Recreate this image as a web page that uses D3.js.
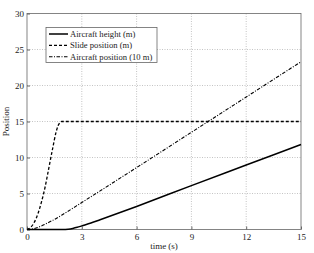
<!DOCTYPE html>
<html>
<head>
<meta charset="utf-8">
<script src="https://cdn.jsdelivr.net/npm/d3@7"></script>
<style>
  body { margin: 0; background: #fff; }
  text { font-family: "Liberation Serif", "DejaVu Serif", serif; fill: #222; }
</style>
</head>
<body>
<svg id="chart" width="314" height="253"></svg>
<script>
// Series data
const heightT = [0, 2, 2.25, 2.5, 2.75, 3, 3.5, 4, 6, 9, 12, 15];
const heightV = [0, 0, 0.05, 0.15, 0.3, 0.5, 0.9, 1.35, 3.2, 6.1, 8.95, 11.8];

const slideT = [0, 0.2, 0.4, 0.6, 0.8, 1.0, 1.2, 1.4, 1.6, 1.7, 1.8, 1.9, 2.0, 15];
const slideV = [0, 0.3, 1.0, 2.2, 3.9, 6.0, 8.6, 11.2, 13.6, 14.4, 14.85, 15, 15, 15];

const planeT = [0, 0.25, 0.5, 0.75, 1, 1.5, 2, 3, 6, 9, 12, 15];
const planeV = [0, 0.05, 0.2, 0.45, 0.75, 1.4, 2.15, 3.75, 8.6, 13.5, 18.4, 23.3];

const xTicks = [0, 3, 6, 9, 12, 15];
const yTicks = [0, 5, 10, 15, 20, 25, 30];

const series = [
  { name: 'Aircraft height (m)', t: heightT, v: heightV, dash: null, width: 1.5 },
  { name: 'Slide position (m)', t: slideT, v: slideV, dash: '3,2', width: 1.3 },
  { name: 'Aircraft position (10 m)', t: planeT, v: planeV, dash: '3.5,1.5,1,1.5', width: 1.1 }
];

const svg = d3.select('#chart');
const pl = 27, pr = 301, pt = 13.5, pb = 229.5;

const x = d3.scaleLinear().domain([0, 15]).range([pl, pr]);
const y = d3.scaleLinear().domain([0, 30]).range([pb, pt]);

// grid
svg.append('g')
  .selectAll('line')
  .data(xTicks.slice(1, -1))
  .join('line')
  .attr('x1', d => x(d)).attr('x2', d => x(d))
  .attr('y1', pt).attr('y2', pb)
  .attr('stroke', '#aaa').attr('stroke-width', 0.7)
  .attr('stroke-dasharray', '1,1.5');

svg.append('g')
  .selectAll('line')
  .data(yTicks.slice(1, -1))
  .join('line')
  .attr('x1', pl).attr('x2', pr)
  .attr('y1', d => y(d)).attr('y2', d => y(d))
  .attr('stroke', '#aaa').attr('stroke-width', 0.7)
  .attr('stroke-dasharray', '1,1.5');

// frame
svg.append('rect')
  .attr('x', pl).attr('y', pt)
  .attr('width', pr - pl).attr('height', pb - pt)
  .attr('fill', 'none').attr('stroke', '#666').attr('stroke-width', 0.8);

// axes
const xAxis = svg.append('g')
  .attr('transform', `translate(0,${pb})`)
  .call(d3.axisBottom(x).tickValues(xTicks).tickSize(-3).tickPadding(4));
const yAxis = svg.append('g')
  .attr('transform', `translate(${pl},0)`)
  .call(d3.axisLeft(y).tickValues(yTicks).tickSize(-3).tickPadding(3));

[xAxis, yAxis].forEach(a => {
  a.attr('font-family', null);
  a.select('.domain').remove();
  a.selectAll('line').attr('stroke', '#666');
  a.selectAll('text').attr('font-size', 9).attr('fill', '#222');
});

// axis titles
svg.append('text')
  .attr('x', (pl + pr) / 2).attr('y', 249)
  .attr('text-anchor', 'middle').attr('font-size', 9)
  .text('time (s)');

svg.append('text')
  .attr('transform', `translate(9,${(pt + pb) / 2}) rotate(-90)`)
  .attr('text-anchor', 'middle').attr('font-size', 9)
  .text('Position');

// lines
const line = d3.line()
  .x(d => x(d[0]))
  .y(d => y(d[1]))
  .curve(d3.curveMonotoneX);

svg.append('g')
  .selectAll('path')
  .data(series)
  .join('path')
  .attr('d', s => line(s.t.map((t, i) => [t, s.v[i]])))
  .attr('fill', 'none')
  .attr('stroke', '#000')
  .attr('stroke-width', s => s.width)
  .attr('stroke-dasharray', s => s.dash);

// legend
const lg = svg.append('g');
lg.append('rect')
  .attr('x', 46).attr('y', 27.5)
  .attr('width', 111).attr('height', 35)
  .attr('fill', '#fff').attr('stroke', '#666').attr('stroke-width', 0.8);

const rows = lg.selectAll('g.row')
  .data(series)
  .join('g')
  .attr('transform', (s, i) => `translate(0,${34 + i * 11.4})`);

rows.append('line')
  .attr('x1', 49).attr('x2', 68)
  .attr('y1', 0).attr('y2', 0)
  .attr('stroke', '#000')
  .attr('stroke-width', s => s.width)
  .attr('stroke-dasharray', s => s.dash);

rows.append('text')
  .attr('x', 70).attr('y', 3)
  .attr('font-size', 8.6)
  .text(s => s.name);
</script>
</body>
</html>
